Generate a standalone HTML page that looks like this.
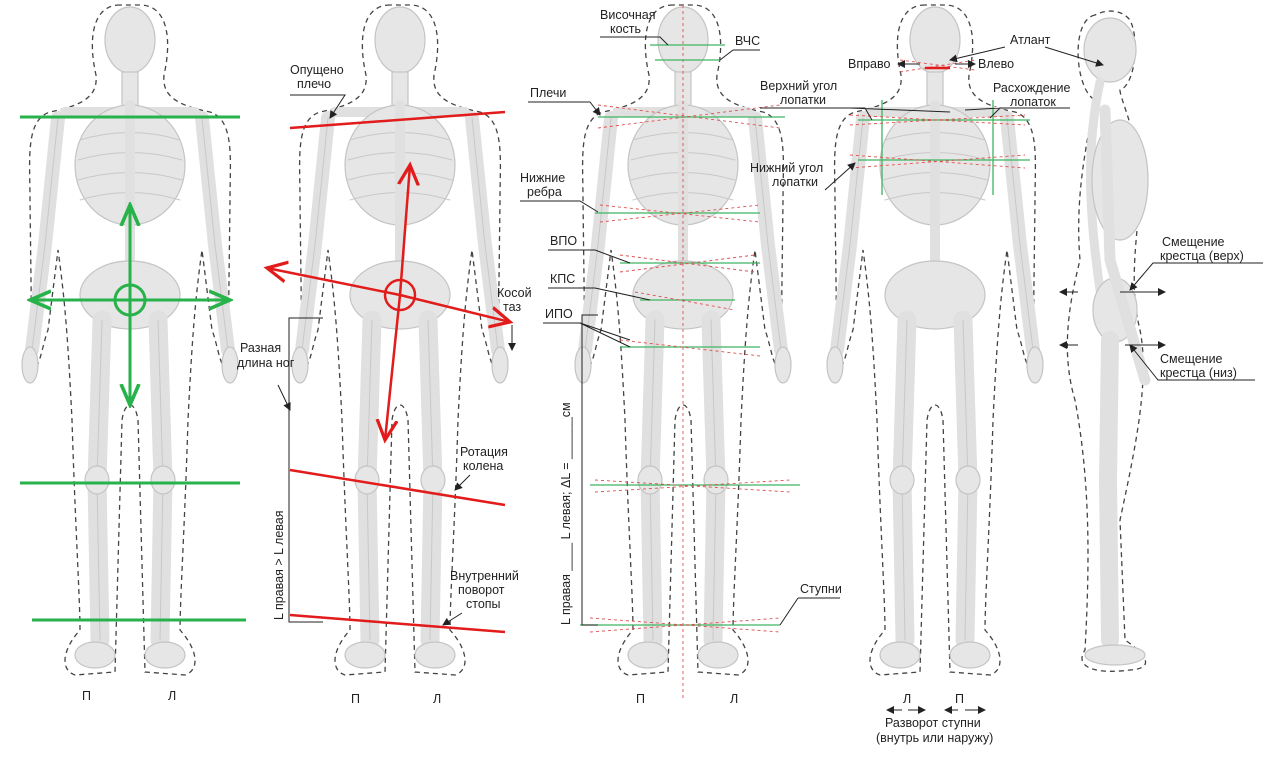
<!DOCTYPE html>
<html><head><meta charset="utf-8"><style>
html,body{margin:0;padding:0;background:#fff}
svg{display:block}
text{font-family:"Liberation Sans","DejaVu Sans",sans-serif;font-size:12.5px;fill:#222}
.b{fill:#e6e6e6;stroke:#c4c4c4;stroke-width:1.2}
.bn{stroke:#e0e0e0;stroke-linecap:round;fill:none}
.bo{stroke:#c8c8c8;stroke-linecap:round;fill:none}
.dash{fill:none;stroke:#444;stroke-width:1.3;stroke-dasharray:5,4}
.g{stroke:#27b24a;stroke-width:3;fill:none}
.gt{stroke:#3cb560;stroke-width:1.3;fill:none}
.r{stroke:#e21b1b;stroke-width:2.5;fill:none}
.rd{stroke:#e05050;stroke-width:0.9;stroke-dasharray:3,3;fill:none}
.k{stroke:#222;stroke-width:1;fill:none}
</style></head><body>
<svg width="1280" height="761" viewBox="0 0 1280 761" xmlns="http://www.w3.org/2000/svg">
<defs>
<marker id="ak" markerWidth="8" markerHeight="8" refX="7" refY="4" orient="auto"><path d="M0,0 L8,4 L0,8 z" fill="#222"/></marker>
<marker id="ag" markerWidth="8" markerHeight="8" refX="7" refY="4" orient="auto"><path d="M0,1 L7,4 L0,7" fill="none" stroke="#27b24a" stroke-width="1.2"/></marker>
<marker id="ar" markerWidth="10" markerHeight="10" refX="8" refY="5" orient="auto"><path d="M0,1 L8,5 L0,9" fill="none" stroke="#e21b1b" stroke-width="1.3"/></marker>
<g id="sk">
 <path class="dash" d="M-10,5 C-38,5 -42,40 -34,75 C-32,95 -45,105 -80,112 C-105,120 -100,160 -100,200 L-98,360 C-92,380 -88,345 -82,330 L-72,250 C-65,300 -62,340 -58,420 C-55,520 -50,600 -50,630 C-68,650 -70,670 -55,675 L-15,672 L-8,420 C-5,400 5,400 8,420 L15,672 L55,675 C70,670 68,650 50,630 C50,600 55,520 58,420 C62,340 65,300 72,250 L82,330 C88,345 92,380 98,360 L100,200 C100,160 105,120 80,112 C45,105 32,95 34,75 C42,40 38,5 10,5 Z"/>
 <ellipse class="b" cx="0" cy="40" rx="25" ry="33"/>
 <rect class="b" x="-8" y="72" width="16" height="35"/>
 <path class="bn" stroke-width="10" d="M-65,112 L65,112"/>
 <ellipse class="b" cx="0" cy="165" rx="55" ry="60"/>
 <path class="bo" stroke-width="1" d="M-50,140 Q0,125 50,140 M-52,160 Q0,145 52,160 M-52,180 Q0,165 52,180 M-50,200 Q0,185 50,200"/>
 <path class="bn" stroke-width="10" d="M0,105 L0,290"/>
 <ellipse class="b" cx="0" cy="295" rx="50" ry="34"/>
 <path class="bn" stroke-width="14" d="M-72,118 L-85,245 L-98,350 M72,118 L85,245 L98,350"/>
 <path class="bo" stroke-width="1" d="M-72,118 L-85,245 L-98,350 M72,118 L85,245 L98,350"/>
 <ellipse class="b" cx="-100" cy="365" rx="8" ry="18"/>
 <ellipse class="b" cx="100" cy="365" rx="8" ry="18"/>
 <path class="bn" stroke-width="19" d="M-28,320 L-33,480 L-30,640 M28,320 L33,480 L30,640"/>
 <path class="bo" stroke-width="1" d="M-28,320 L-33,480 L-30,640 M28,320 L33,480 L30,640"/>
 <ellipse class="b" cx="-33" cy="480" rx="12" ry="14"/>
 <ellipse class="b" cx="33" cy="480" rx="12" ry="14"/>
 <ellipse class="b" cx="-35" cy="655" rx="20" ry="13"/>
 <ellipse class="b" cx="35" cy="655" rx="20" ry="13"/>
</g>
</defs>
<rect width="1280" height="761" fill="#fff"/>
<use href="#sk" x="130" y="0"/>
<use href="#sk" x="400" y="0"/>
<use href="#sk" x="683" y="0"/>
<use href="#sk" x="935" y="0"/>
<g>
 <path class="dash" d="M1095,15 C1070,20 1075,90 1095,100 C1085,150 1075,200 1080,260 C1070,300 1060,350 1075,400 C1090,480 1090,560 1085,650 C1075,665 1090,675 1130,670 C1160,668 1140,650 1125,640 L1120,520 C1135,450 1150,380 1140,330 C1130,290 1135,250 1140,200 C1145,150 1120,100 1120,90 C1135,85 1140,40 1130,20 C1120,8 1105,10 1095,15 Z"/>
 <ellipse class="b" cx="1110" cy="50" rx="26" ry="32"/>
 <path class="bn" stroke-width="9" d="M1100,82 C1085,150 1090,220 1100,290"/>
 <ellipse class="b" cx="1120" cy="180" rx="28" ry="60"/>
 <ellipse class="b" cx="1115" cy="310" rx="22" ry="32"/>
 <path class="bn" stroke-width="11" d="M1105,110 L1110,260 L1145,380"/>
 <path class="bn" stroke-width="18" d="M1110,340 L1108,480 L1110,640"/>
 <ellipse class="b" cx="1115" cy="655" rx="30" ry="10"/>
</g>

<path class="g" d="M20,117 H240 M20,483 H240 M32,620 H246"/>
<path class="g" stroke-width="2" d="M130,300 V205" marker-end="url(#ag)"/>
<path class="g" stroke-width="2" d="M130,300 V405" marker-end="url(#ag)"/>
<path class="g" stroke-width="2" d="M130,300 H30" marker-end="url(#ag)"/>
<path class="g" stroke-width="2" d="M130,300 H230" marker-end="url(#ag)"/>
<circle class="g" cx="130" cy="300" r="15"/>
<text x="82" y="700">П</text><text x="168" y="700">Л</text>

<path class="r" d="M290,128 L505,112"/>
<path class="k" d="M290,95 H345 L330,118" marker-end="url(#ak)"/>
<text x="290" y="74">Опущено</text><text x="297" y="88">плечо</text>
<path class="r" d="M400,295 L267,268" marker-end="url(#ar)"/>
<path class="r" d="M400,295 L510,322" marker-end="url(#ar)"/>
<path class="r" d="M400,295 L410,165" marker-end="url(#ar)"/>
<path class="r" d="M400,295 L385,440" marker-end="url(#ar)"/>
<circle class="r" cx="400" cy="295" r="15"/>
<path class="r" d="M290,470 L505,505 M290,615 L505,632"/>
<path class="k" d="M323,318 H289 V622 H323"/>
<path class="k" stroke-width="2.5" d="M278,385 L290,410" marker-end="url(#ak)"/>
<text x="240" y="352">Разная</text><text x="237" y="367">длина ног</text>
<text transform="translate(283,620) rotate(-90)">L правая &gt; L левая</text>
<text x="497" y="297">Косой</text><text x="503" y="311">таз</text>
<path class="k" stroke-width="2" d="M512,325 V350" marker-end="url(#ak)"/>
<text x="460" y="456">Ротация</text><text x="463" y="470">колена</text>
<path class="k" stroke-width="2" d="M470,475 L455,490" marker-end="url(#ak)"/>
<text x="450" y="580">Внутренний</text><text x="458" y="594">поворот</text><text x="466" y="608">стопы</text>
<path class="k" stroke-width="2" d="M462,613 L443,625" marker-end="url(#ak)"/>
<text x="351" y="703">П</text><text x="433" y="703">Л</text>

<path class="rd" d="M683,5 V700"/>
<path class="gt" d="M650,45 H725 M655,60 H720 M598,117 H785 M595,213 H760 M620,263 H760 M640,300 H735 M620,347 H760 M590,485 H800 M580,625 H780"/>
<path class="rd" d="M598,105 L780,128 M598,128 L780,105 M600,205 L760,222 M600,222 L760,205 M620,255 L755,272 M620,272 L755,255 M635,292 L735,310 M620,340 L760,356 M595,480 L790,492 M595,492 L790,480 M590,618 L780,632 M590,632 L780,618"/>
<text x="600" y="19">Височная</text><text x="610" y="33">кость</text>
<path class="k" d="M600,37 H660 L668,45"/>
<text x="735" y="45">ВЧС</text><path class="k" d="M733,50 H760 M733,50 L720,60"/>
<text x="530" y="97">Плечи</text><path class="k" d="M528,102 H590 L600,115" marker-end="url(#ak)"/>
<text x="520" y="182">Нижние</text><text x="527" y="196">ребра</text><path class="k" d="M520,201 H580 L598,212"/>
<text x="550" y="245">ВПО</text><path class="k" d="M548,250 H595 L630,263"/>
<text x="550" y="283">КПС</text><path class="k" d="M548,288 H595 L650,300"/>
<text x="545" y="318">ИПО</text><path class="k" d="M543,323 H580 L630,347 M580,323 L630,340"/>
<path class="k" d="M598,315 H582 V625 H598"/>
<text transform="translate(570,625) rotate(-90)">L правая ____ L левая;  ΔL = ______см</text>
<text x="800" y="593">Ступни</text><path class="k" d="M798,598 H840 M798,598 L780,625"/>
<text x="636" y="703">П</text><text x="730" y="703">Л</text>

<path class="gt" d="M858,120 H1030 M858,160 H1030 M882,100 V195 M993,100 V195"/>
<path class="rd" d="M850,115 L1025,125 M850,125 L1025,115 M850,155 L1025,168 M850,168 L1025,155 M900,60 L975,70 M900,72 L975,60"/>
<path class="r" stroke-width="2" d="M925,68 H950"/>
<text x="1010" y="44">Атлант</text><path class="k" d="M1005,47 L950,60" marker-end="url(#ak)"/><path class="k" d="M1045,47 L1103,65" marker-end="url(#ak)"/>
<text x="848" y="68">Вправо</text><path class="k" d="M920,64 H898" marker-end="url(#ak)"/>
<text x="978" y="68">Влево</text><path class="k" d="M955,64 H975" marker-end="url(#ak)"/>
<text x="760" y="90">Верхний угол</text><text x="780" y="104">лопатки</text>
<path class="k" d="M760,108 H865 L872,120 M850,108 L950,112"/>
<text x="993" y="92">Расхождение</text><text x="1010" y="106">лопаток</text>
<path class="k" d="M1070,108 H1000 L990,118 M1000,108 L965,110"/>
<text x="750" y="172">Нижний угол</text><text x="772" y="186">лопатки</text>
<path class="k" d="M825,190 L855,163" marker-end="url(#ak)"/>
<text x="903" y="703">Л</text><text x="955" y="703">П</text>
<path class="k" d="M902,710 H887" marker-end="url(#ak)"/><path class="k" d="M908,710 H925" marker-end="url(#ak)"/>
<path class="k" d="M958,710 H945" marker-end="url(#ak)"/><path class="k" d="M965,710 H985" marker-end="url(#ak)"/>
<text x="885" y="727">Разворот ступни</text><text x="876" y="742">(внутрь или наружу)</text>

<text x="1162" y="246">Смещение</text><text x="1160" y="260">крестца (верх)</text>
<path class="k" d="M1263,263 H1153 L1130,290" marker-end="url(#ak)"/>
<path class="k" stroke-width="1.5" d="M1120,292 H1165" marker-end="url(#ak)"/>
<path class="k" stroke-width="1.5" d="M1078,292 H1060" marker-end="url(#ak)"/>
<text x="1160" y="363">Смещение</text><text x="1160" y="377">крестца (низ)</text>
<path class="k" d="M1255,380 H1158 L1130,345" marker-end="url(#ak)"/>
<path class="k" stroke-width="1.5" d="M1125,345 H1165" marker-end="url(#ak)"/>
<path class="k" stroke-width="1.5" d="M1078,345 H1060" marker-end="url(#ak)"/>
</svg>
</body></html>
